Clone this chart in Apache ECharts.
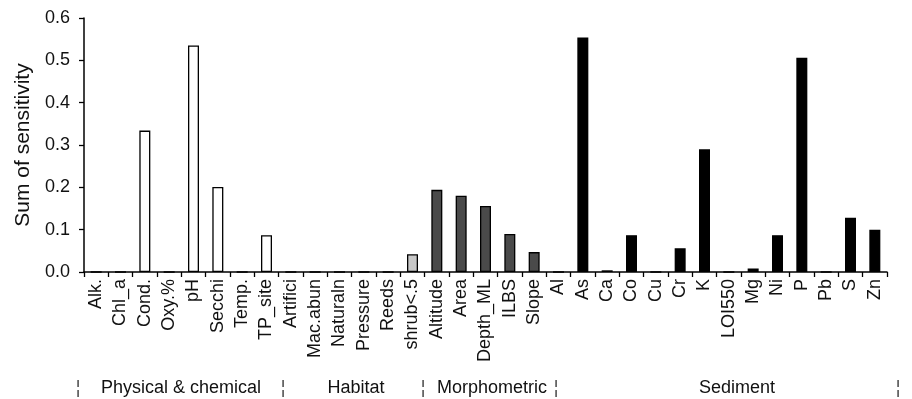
<!DOCTYPE html>
<html>
<head>
<meta charset="utf-8">
<script src="https://cdn.jsdelivr.net/npm/echarts@6/dist/echarts.min.js"></script>
<style>html,body{margin:0;padding:0;background:#fff}#c{width:912px;height:399px}</style>
</head>
<body>
<div id="c"></div>
<script>
// ---- data ----
const physicalCats = ['Alk.','Chl_a','Cond.','Oxy.%','pH','Secchi','Temp.','TP_site'];
const physicalVals = [0, 0, 0.334, 0, 0.535, 0.201, 0, 0.087];
const habitatCats = ['Artifici','Mac.abun','Naturaln','Pressure','Reeds','shrub<.5'];
const habitatVals = [0, 0, 0, 0, 0, 0.042];
const morphoCats = ['Altitude','Area','Depth_ML','ILBS','Slope'];
const morphoVals = [0.194, 0.180, 0.156, 0.090, 0.047];
const sedimentCats = ['Al','As','Ca','Co','Cu','Cr','K','LOI550','Mg','Ni','P','Pb','S','Zn'];
const sedimentVals = [0, 0.554, 0.004, 0.087, 0, 0.056, 0.290, 0, 0.008, 0.087, 0.506, 0, 0.128, 0.100];
const groupNames = ['Physical & chemical','Habitat','Morphometric','Sediment'];
const yTicks = [0, 0.1, 0.2, 0.3, 0.4, 0.5, 0.6];

// ---- styles ----
const groupFill = ['#ffffff', '#c8c8c8', '#4a4a4a', '#000000'];
const groupLabelX = [181, 356, 492, 737];
const separatorX = [78, 283, 423, 556, 898];

const groups = [
  [physicalCats, physicalVals],
  [habitatCats, habitatVals],
  [morphoCats, morphoVals],
  [sedimentCats, sedimentVals]
];
const categories = [];
const data = [];
groups.forEach((g, gi) => {
  g[0].forEach((c, i) => {
    categories.push(c);
    data.push({value: g[1][i], itemStyle: {color: groupFill[gi], borderColor: '#000', borderWidth: 1.3}});
  });
});

const chart = echarts.init(document.getElementById('c'));
const font = 'Liberation Sans, Arial, Helvetica, sans-serif';
const graphics = [];
groupNames.forEach((n, i) => {
  graphics.push({type: 'text', x: groupLabelX[i], y: 388,
    style: {text: n, font: '18px ' + font, fill: '#111', textAlign: 'center', textVerticalAlign: 'middle'}});
});
separatorX.forEach(x => {
  graphics.push({type: 'text', x: x, y: 388,
    style: {text: '¦', font: '18px ' + font, fill: '#444', textAlign: 'center', textVerticalAlign: 'middle'}});
});

chart.setOption({
  animation: false,
  backgroundColor: '#fff',
  grid: {left: 84, right: 25, top: 18, bottom: 127, containLabel: false},
  xAxis: {
    type: 'category',
    data: categories,
    boundaryGap: true,
    axisLine: {lineStyle: {color: '#000', width: 1.5}},
    axisTick: {show: true, length: 5, lineStyle: {color: '#000', width: 1.3}},
    axisLabel: {rotate: 90, interval: 0, margin: 7, color: '#111', fontSize: 18, fontFamily: font}
  },
  yAxis: {
    type: 'value',
    min: yTicks[0], max: yTicks[yTicks.length - 1], interval: 0.1,
    name: 'Sum of sensitivity',
    nameLocation: 'middle', nameGap: 50, nameRotate: 90,
    nameTextStyle: {fontSize: 21, color: '#111', fontFamily: font},
    axisLine: {show: true, lineStyle: {color: '#000', width: 1.5}},
    axisTick: {show: true, length: 5, lineStyle: {color: '#000', width: 1.3}},
    splitLine: {show: false},
    axisLabel: {fontSize: 18, color: '#111', fontFamily: font, margin: 14,
      formatter: v => v.toFixed(1)}
  },
  series: [{
    type: 'bar',
    data: data,
    barWidth: 11
  }],
  graphic: graphics
});
</script>
</body>
</html>
